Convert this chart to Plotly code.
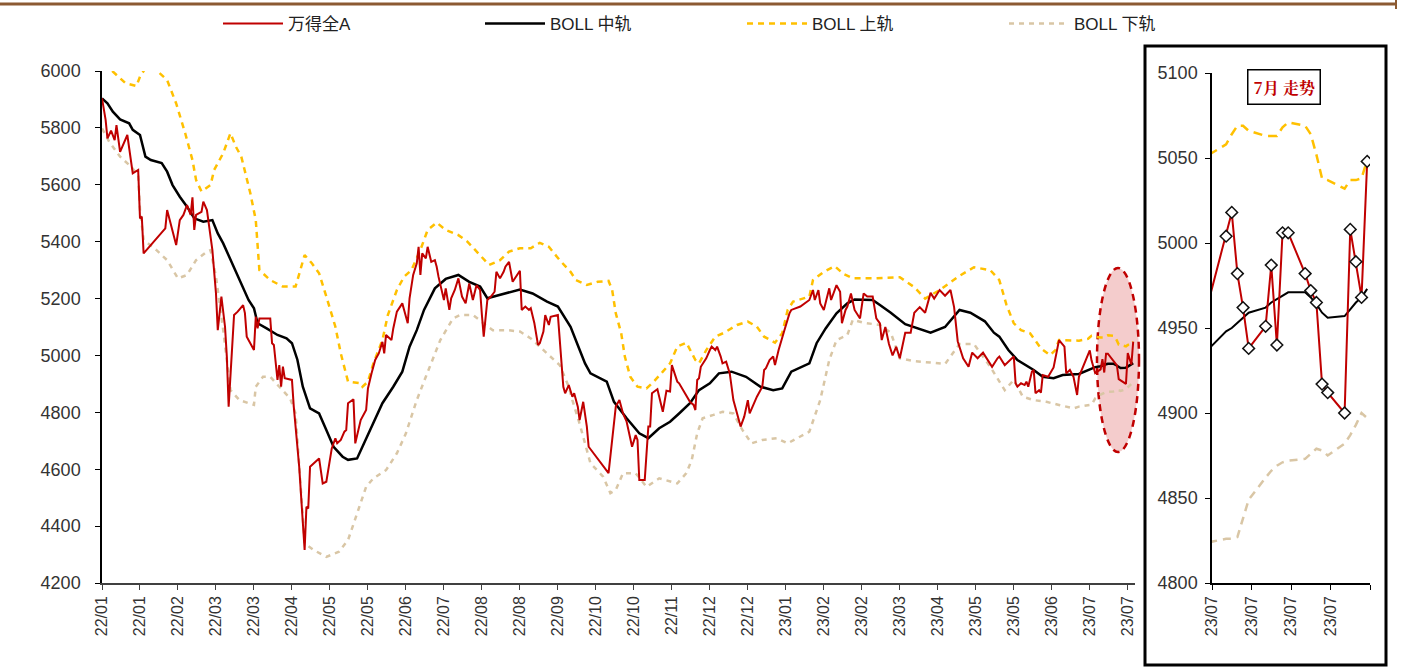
import pandas as pd
import plotly.graph_objects as go

# ---------------- data ----------------
# main chart: calendar-day offsets from 2022-01-04, values up to 2023-06-28
close_day = [0, 2, 3, 5, 7, 8, 10, 14, 17, 20, 21, 22, 23, 35, 36, 38, 41, 43, 45, 47, 49, 50, 51, 52, 55, 56, 58,
             61, 63, 64, 66, 68, 69, 70, 73, 75, 78, 79, 80, 84, 85, 86, 87, 93, 94, 95, 97, 98, 99, 100, 101, 105,
             106, 109, 112, 113, 114, 115, 120, 122, 124, 127, 129, 130, 132, 134, 135, 136, 139, 140, 143, 146, 147,
             149, 151, 153, 155, 156, 157, 160, 161, 163, 166, 167, 169, 170, 172, 174, 175, 176, 177, 179, 180, 182,
             184, 185, 186, 189, 190, 192, 193, 195, 197, 199, 201, 203, 205, 207, 209, 210, 211, 213, 215, 217, 218,
             220, 222, 223, 225, 227, 229, 231, 232, 234, 236, 237, 239, 241, 242, 244, 245, 247, 248, 252, 255, 256,
             258, 260, 261, 263, 264, 266, 268, 269, 280, 282, 283, 284, 286, 288, 290, 293, 295, 296, 297, 300, 302,
             303, 304, 307, 308, 310, 312, 314, 315, 318, 319, 322, 323, 325, 327, 328, 329, 330, 331, 334, 336, 337,
             339, 340, 342, 343, 345, 347, 349, 353, 355, 357, 358, 362, 365, 366, 367, 369, 371, 372, 374, 376, 377,
             380, 381, 386, 391, 393, 394, 396, 397, 399, 400, 402, 403, 406, 408, 409, 411, 412, 414, 416, 419, 421,
             423, 426, 428, 430, 431, 433, 435, 437, 439, 441, 444, 447, 449, 452, 455, 458, 460, 463, 466, 469, 471,
             473, 476, 479, 481, 484, 487, 490, 492, 495, 496, 499, 504, 505, 506, 508, 510, 511, 512, 514, 515, 516,
             518, 519, 520, 523, 526, 529, 531, 532, 533, 535, 537, 539, 540]
close_val = [5904, 5828, 5763, 5790, 5757, 5810, 5716, 5775, 5640, 5652, 5482, 5488, 5359, 5447, 5511, 5465, 5388,
             5476, 5494, 5529, 5494, 5556, 5441, 5494, 5505, 5541, 5511, 5371, 5218, 5089, 5207, 5101, 4996, 4820,
             5142, 5154, 5177, 5149, 5066, 5019, 5136, 5095, 5130, 5130, 5043, 5037, 4914, 4966, 4890, 4961, 4920,
             4914, 4820, 4609, 4316, 4468, 4462, 4609, 4638, 4550, 4556, 4673, 4709, 4691, 4703, 4732, 4738, 4832,
             4846, 4691, 4773, 4808, 4884, 4937, 4984, 5007, 5048, 5007, 5072, 5054, 5095, 5154, 5183, 5160, 5113,
             5201, 5283, 5324, 5382, 5283, 5359, 5341, 5382, 5329, 5335, 5312, 5277, 5195, 5236, 5160, 5201, 5230,
             5271, 5207, 5183, 5253, 5195, 5247, 5230, 5142, 5066, 5195, 5207, 5224, 5294, 5271, 5294, 5312, 5329,
             5259, 5277, 5298, 5160, 5172, 5160, 5166, 5113, 5037, 5043, 5084, 5142, 5107, 5136, 5142, 4890, 4867,
             4896, 4855, 4867, 4820, 4773, 4837, 4750, 4679, 4586, 4703, 4773, 4820, 4843, 4796, 4767, 4679, 4720,
             4703, 4562, 4562, 4750, 4750, 4867, 4881, 4855, 4802, 4876, 4873, 4966, 4908, 4902, 4867, 4855, 4837,
             4826, 4808, 4914, 4920, 4960, 4990, 5019, 5031, 5019, 5031, 4996, 4972, 4978, 4937, 4843, 4750, 4785,
             4843, 4796, 4855, 4890, 4949, 4955, 4984, 4996, 4966, 5019, 5066, 5084, 5148, 5160, 5172, 5195, 5230,
             5195, 5230, 5183, 5160, 5183, 5236, 5195, 5247, 5224, 5113, 5160, 5172, 5218, 5160, 5130, 5218, 5207,
             5207, 5130, 5113, 5054, 5100, 5040, 5000, 5030, 4990, 5080, 5080, 5150, 5170, 5150, 5220, 5200, 5230,
             5210, 5230, 5170, 5050, 4990, 4960, 5010, 4990, 5010, 4980, 4960, 4990, 4996, 4966, 4996, 4902, 4890,
             4902, 4896, 4908, 4890, 4943, 4949, 4867, 4878, 4869, 4931, 4925, 4958, 5054, 5037, 5031, 4937, 4949,
             4925, 4861, 4925]

mid_day = [0, 3, 6, 10, 15, 17, 21, 24, 27, 33, 36, 39, 43, 47, 51, 56, 61, 64, 67, 72, 76, 81, 84, 86, 91, 97, 102,
           105, 108, 111, 115, 120, 124, 128, 133, 136, 141, 144, 148, 155, 161, 166, 170, 174, 178, 184, 190, 197,
           203, 209, 213, 220, 231, 238, 246, 252, 259, 264, 267, 270, 279, 283, 290, 297, 302, 308, 314, 319, 325,
           330, 336, 341, 348, 356, 364, 371, 376, 381, 391, 395, 400, 406, 412, 416, 426, 430, 436, 444, 449, 458,
           466, 471, 474, 480, 488, 493, 496, 501, 506, 515, 520, 526, 531, 540]
mid_val = [5904, 5886, 5857, 5830, 5816, 5793, 5775, 5699, 5687, 5676, 5646, 5599, 5558, 5523, 5482, 5470, 5476, 5429,
           5394, 5324, 5265, 5195, 5166, 5113, 5095, 5072, 5060, 5043, 4985, 4890, 4814, 4796, 4738, 4679, 4644, 4633,
           4638, 4679, 4738, 4832, 4890, 4943, 5031, 5089, 5160, 5236, 5269, 5283, 5259, 5242, 5201, 5212, 5232, 5218,
           5189, 5172, 5101, 5020, 4972, 4937, 4908, 4837, 4779, 4726, 4709, 4744, 4767, 4796, 4832, 4878, 4902, 4937,
           4943, 4925, 4890, 4878, 4884, 4943, 4972, 5043, 5095, 5148, 5183, 5197, 5195, 5177, 5150, 5110, 5100, 5080,
           5100, 5140, 5160, 5150, 5120, 5080, 5066, 5019, 4984, 4949, 4925, 4920, 4931, 4935]

up_day = [0, 6, 13, 19, 21, 24, 28, 32, 36, 41, 46, 50, 52, 55, 60, 62, 67, 71, 74, 77, 82, 85, 87, 93, 100, 107, 109,
          112, 116, 120, 124, 129, 132, 136, 143, 144, 147, 150, 155, 158, 163, 167, 171, 176, 180, 185, 190, 197, 202,
          207, 212, 214, 220, 225, 231, 237, 242, 247, 253, 259, 262, 268, 274, 280, 282, 284, 287, 289, 292, 296, 301,
          305, 310, 314, 318, 323, 328, 330, 334, 339, 344, 351, 357, 362, 366, 372, 376, 379, 382, 391, 393, 399, 405,
          410, 415, 428, 441, 449, 455, 463, 474, 482, 491, 496, 500, 504, 508, 513, 519, 524, 527, 529, 540]
up_val = [6150, 5998, 5957, 5947, 5980, 6010, 6015, 5992, 5968, 5886, 5781, 5687, 5617, 5576, 5599, 5652, 5711, 5781,
          5734, 5699, 5570, 5476, 5300, 5265, 5242, 5242, 5289, 5353, 5324, 5289, 5207, 5101, 5007, 4908, 4902, 4890,
          4908, 4972, 5054, 5142, 5230, 5277, 5300, 5371, 5441, 5467, 5441, 5423, 5400, 5365, 5329, 5318, 5335, 5365,
          5377, 5377, 5396, 5382, 5335, 5294, 5265, 5248, 5259, 5262, 5230, 5148, 5078, 4996, 4925, 4890, 4884, 4908,
          4943, 4972, 5031, 5045, 4984, 4972, 5019, 5066, 5080, 5107, 5119, 5101, 5066, 5045, 5078, 5160, 5189, 5207,
          5265, 5294, 5314, 5286, 5271, 5271, 5275, 5240, 5200, 5230, 5280, 5310, 5300, 5265, 5177, 5113, 5089, 5078,
          5025, 5001, 5019, 5054, 5052]

low_day = [0, 4, 10, 16, 20, 21, 23, 30, 36, 42, 47, 52, 58, 60, 63, 67, 71, 76, 84, 85, 89, 93, 98, 104, 107, 109,
           112, 117, 124, 131, 136, 146, 150, 157, 163, 168, 174, 179, 187, 194, 198, 205, 211, 216, 224, 231, 237, 242,
           248, 253, 258, 260, 264, 270, 277, 281, 284, 288, 295, 301, 308, 318, 323, 326, 329, 332, 338, 343, 349, 354,
           359, 365, 373, 379, 386, 391, 397, 402, 406, 412, 415, 421, 430, 436, 441, 449, 458, 466, 474, 482, 491, 499,
           504, 509, 515, 522, 529, 537, 540]
low_val = [5798, 5751, 5699, 5664, 5634, 5511, 5406, 5371, 5335, 5271, 5283, 5335, 5365, 5370, 5277, 5089, 4878, 4843,
           4826, 4890, 4925, 4925, 4890, 4849, 4796, 4609, 4339, 4316, 4292, 4310, 4351, 4538, 4568, 4597, 4656, 4726,
           4843, 4925, 5054, 5130, 5142, 5142, 5113, 5089, 5089, 5084, 5060, 5031, 4996, 4966, 4890, 4843, 4760, 4621,
           4574, 4516, 4527, 4586, 4586, 4538, 4568, 4550, 4586, 4633, 4726, 4779, 4791, 4802, 4796, 4738, 4691, 4703,
           4709, 4691, 4715, 4732, 4843, 4984, 5054, 5072, 5125, 5115, 5107, 5080, 4990, 4980, 4975, 4970, 5040, 5040,
           4960, 4878, 4914, 4855, 4843, 4837, 4826, 4814, 4820]

# July 2023 detail (first entry 2023-06-30)
jul_dates = ['2023-06-30', '2023-07-03', '2023-07-04', '2023-07-05', '2023-07-06', '2023-07-07', '2023-07-10',
             '2023-07-11', '2023-07-12', '2023-07-13', '2023-07-14', '2023-07-17', '2023-07-18', '2023-07-19',
             '2023-07-20', '2023-07-21', '2023-07-24', '2023-07-25', '2023-07-26', '2023-07-27', '2023-07-28']
jul_close = [4967, 5004, 5018, 4982, 4962, 4938, 4951, 4987, 4940, 5006, 5006, 4982, 4972, 4965, 4917, 4912, 4900,
             5008, 4989, 4968, 5048]
jul_mid = [4938, 4948, 4950, 4953, 4956, 4959, 4962, 4965, 4967, 4969, 4971, 4971, 4968, 4964, 4959, 4956, 4957,
           4961, 4965, 4968, 4973]
jul_up = [5052, 5058, 5064, 5069, 5069, 5066, 5063, 5063, 5063, 5068, 5071, 5069, 5064, 5052, 5038, 5037, 5032, 5037,
          5037, 5038, 5049]
jul_low = [4824, 4826, 4826, 4827, 4838, 4849, 4862, 4866, 4869, 4871, 4872, 4873, 4876, 4879, 4878, 4875, 4882,
           4887, 4893, 4900, 4897]

main_ticks = ['6000', '5800', '5600', '5400', '5200', '5000', '4800', '4600', '4400', '4200']
jul_ticktext = ['23/07', '23/07', '23/07', '23/07', '']
jul_tickvals = ['2023-07-01', '2023-07-08', '2023-07-15', '2023-07-22', '2023-07-29']

names = ['万得全A', 'BOLL 中轨', 'BOLL 上轨', 'BOLL 下轨']
RED, BLACK, YELLOW, TAN = '#C00000', '#000000', '#FFC000', '#D9C6A5'

start = pd.Timestamp('2022-01-04')


def to_dates(days):
    return list(start + pd.to_timedelta(days, unit='D'))


W, H = 1412, 667


def px_x(p):
    return p / W


def px_y(p):
    return 1 - p / H


fig = go.Figure()

# main panel
main_series = [
    (low_day, low_val, jul_low, TAN, 2.5, '5px,5px', names[3], 4),
    (up_day, up_val, jul_up, YELLOW, 2.5, '6px,5px', names[2], 3),
    (mid_day, mid_val, jul_mid, BLACK, 2.5, None, names[1], 2),
    (close_day, close_val, jul_close, RED, 2, None, names[0], 1),
]
for days, vals, jvals, col, w, dash, nm, rank in main_series:
    fig.add_trace(go.Scatter(
        x=to_dates(days) + list(pd.to_datetime(jul_dates[1:])),
        y=vals + jvals[1:], mode='lines', name=nm, legendrank=rank,
        line=dict(color=col, width=w, dash=dash), xaxis='x', yaxis='y'))

# right (July) panel
right_series = [
    (jul_low, TAN, 2.5, '8px,6px'),
    (jul_up, YELLOW, 2.5, '9px,6px'),
    (jul_mid, BLACK, 2, None),
    (jul_close, RED, 2, None),
]
for vals, col, w, dash in right_series:
    fig.add_trace(go.Scatter(
        x=jul_dates, y=vals, mode='lines', showlegend=False,
        xperiod=86400000, xperiodalignment='middle',
        line=dict(color=col, width=w, dash=dash), xaxis='x2', yaxis='y2'))
# diamond markers only on the July sessions
fig.add_trace(go.Scatter(
    x=jul_dates[1:], y=jul_close[1:], mode='markers', showlegend=False,
    xperiod=86400000, xperiodalignment='middle',
    marker=dict(symbol='diamond', size=9, color='white', line=dict(color='#111', width=1.5)),
    xaxis='x2', yaxis='y2'))

tickfont = dict(family='Liberation Sans, Arial, sans-serif', size=18, color='#333')
xtickfont = dict(family='Liberation Sans, Arial, sans-serif', size=16, color='#333')

fig.update_layout(
    width=W, height=H, template='none',
    margin=dict(l=0, r=0, t=0, b=0, autoexpand=False),
    paper_bgcolor='white', plot_bgcolor='rgba(0,0,0,0)',
    showlegend=True,
    legend=dict(orientation='h', x=px_x(218), xanchor='left', y=px_y(24), yanchor='middle',
                font=dict(family='Liberation Sans Narrow, Liberation Sans, Noto Sans CJK SC', size=17, color='#222'),
                entrywidth=187, itemwidth=60, bgcolor='rgba(0,0,0,0)', traceorder='normal'),
    xaxis=dict(domain=[px_x(102), px_x(1135)], type='date', range=['2022-01-04', '2023-07-29'],
               tick0='2022-01-04', dtick=21 * 86400000, tickformat='%y/%m', tickangle=-90,
               ticks='outside', ticklen=5, tickcolor='#404040', showline=True, linecolor='#404040',
               linewidth=1.5, showgrid=False, zeroline=False, tickfont=xtickfont, anchor='y',
               automargin=False),
    yaxis=dict(domain=[px_y(583), px_y(71)], range=[4200, 6000], tickvals=[int(t) for t in main_ticks],
               ticktext=main_ticks, ticks='outside', ticklen=5, tickcolor='#000', showline=True,
               linecolor='#000', linewidth=1.5, showgrid=False, zeroline=False, tickfont=tickfont,
               ticklabelstandoff=11, anchor='x', automargin=False),
    xaxis2=dict(domain=[px_x(1212), px_x(1370)], type='date', range=['2023-07-01', '2023-07-29'],
                tickvals=jul_tickvals, ticktext=jul_ticktext, tickangle=-90,
                ticks='outside', ticklen=5, tickcolor='#000', showline=True, linecolor='#000',
                linewidth=1.5, showgrid=False, zeroline=False, tickfont=xtickfont, anchor='y2',
                automargin=False),
    yaxis2=dict(domain=[px_y(583), px_y(73)], range=[4800, 5100], dtick=50, ticks='outside', ticklen=5,
                tickcolor='#000', showline=True, linecolor='#000', linewidth=1.5, showgrid=False,
                zeroline=False, tickfont=tickfont, ticklabelstandoff=4, anchor='x2', automargin=False),
)

# decorations: top rule, July highlight, right frame, label box
fig.add_shape(type='line', xref='paper', yref='paper', x0=0, x1=px_x(1396), y0=px_y(4), y1=px_y(4),
              line=dict(color='#8C5A32', width=3))
fig.add_shape(type='line', xref='paper', yref='paper', x0=px_x(1396), x1=px_x(1396), y0=1, y1=px_y(9),
              line=dict(color='#8C5A32', width=2))
fig.add_shape(type='circle', xref='paper', yref='paper', layer='below',
              x0=px_x(1097), x1=px_x(1139), y0=px_y(452), y1=px_y(268),
              fillcolor='rgba(224,110,110,0.35)', line=dict(color=RED, width=2.5, dash='7px,5px'))
fig.add_shape(type='rect', xref='paper', yref='paper',
              x0=px_x(1145), x1=px_x(1386), y0=px_y(665), y1=px_y(46),
              line=dict(color='#000', width=3))
fig.add_annotation(xref='paper', yref='paper', x=px_x(1284), y=px_y(87), xanchor='center', yanchor='middle',
                   showarrow=False, text='<b>7月 走势</b>',
                   font=dict(family='Noto Serif CJK SC, Noto Sans CJK SC', size=16, color=RED),
                   bordercolor='#000', borderwidth=1.5, borderpad=5, bgcolor='white')

fig.write_html("out.html", config={'displayModeBar': False},
               post_script="document.body.style.margin='0';")
